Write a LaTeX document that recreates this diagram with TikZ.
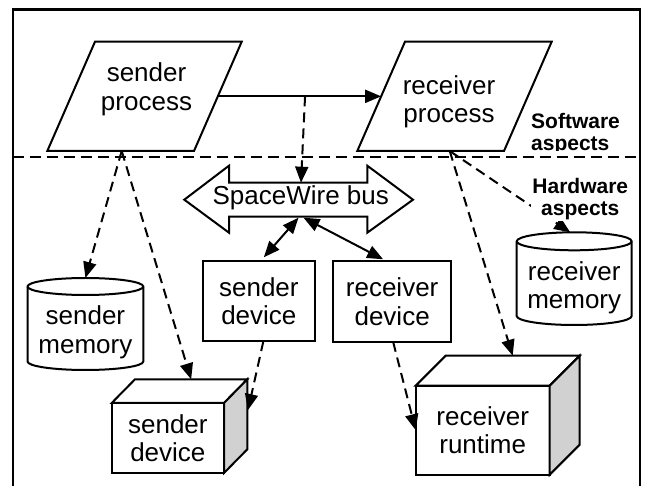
\documentclass[tikz,border=0pt]{standalone}
\usepackage{fontspec}
\setmainfont{Liberation Sans}
\usetikzlibrary{arrows.meta,calc}
\begin{document}
\begin{tikzpicture}[x=1pt,y=-1pt,
  shapeline/.style={line width=2pt},
  anchorbox/.style={rectangle, draw=none, inner sep=0pt, outer sep=0pt},
  mainfont/.style={font=\fontsize{26}{28.5}\selectfont},
  boxnode/.style={rectangle, draw, line width=2pt, fill=white, inner sep=0pt, outer sep=0pt, align=center, mainfont},
  cylnode/.style={rectangle, draw=none, inner sep=0pt, outer sep=0pt, align=center, mainfont},
  txt/.style={inner sep=0pt, align=center, mainfont},
  aspectfont/.style={font=\fontsize{21}{22}\selectfont\bfseries},
  solidarrow/.style={line width=2pt, -{Triangle[length=16pt,width=13pt]}},
  dasharrow/.style={line width=2pt, dash pattern=on 10pt off 6pt, -{Triangle[length=16pt,width=13pt]}},
  busarrow/.style={line width=2pt, {Triangle[length=16pt,width=13pt]}-{Triangle[length=16pt,width=13pt]}},
  sideface/.style={line width=2pt, fill=black!18},
  topface/.style={line width=2pt, fill=white},
]
\useasboundingbox (0,0) rectangle (646,486);

% frame and divider
\draw[line width=2.2pt] (12.7,486) -- (12.7,9.5) -- (639.7,9.5) -- (639.7,486);
\draw[line width=2pt, dash pattern=on 11pt off 6pt] (12.7,156.7) -- (639.7,156.7);

% processes (parallelograms)
\node[anchorbox, minimum width=146.7pt, minimum height=109.3pt] (sp) at (144.5,96.35) {};
\draw[shapeline] ($(sp.north west)+(23.85,0)$) -- ($(sp.north east)+(23.85,0)$) -- ($(sp.south east)+(-23.85,0)$) -- ($(sp.south west)+(-23.85,0)$) -- cycle;
\node[txt] (sptext) at (146.5,89.5) {sender\\process};

\node[anchorbox, minimum width=146.7pt, minimum height=109.3pt] (rp) at (454.5,96.35) {};
\draw[shapeline] ($(rp.north west)+(23.85,0)$) -- ($(rp.north east)+(23.85,0)$) -- ($(rp.south east)+(-23.85,0)$) -- ($(rp.south west)+(-23.85,0)$) -- cycle;
\node[txt] (rptext) at (449,102) {receiver\\process};

% SpaceWire bus
\coordinate (busc) at (299,199.7);
\draw[shapeline] ($(busc)+(-114.7,0)$) -- ($(busc)+(-70,-34)$) -- ($(busc)+(-70,-17)$) -- ($(busc)+(68.3,-17)$) -- ($(busc)+(68.3,-34)$) -- ($(busc)+(114,0)$) -- ($(busc)+(68.3,33)$) -- ($(busc)+(68.3,17)$) -- ($(busc)+(-70,17)$) -- ($(busc)+(-70,33)$) -- cycle;
\node[txt] (bus) at (300.8,198) {SpaceWire bus};

% devices
\node[boxnode, minimum width=112.3pt, minimum height=80pt] (sdev) at (258.85,301.3) {sender\\device};
\node[boxnode, minimum width=118.3pt, minimum height=80.7pt] (rdev) at (392.15,301.65) {receiver\\device};

% memories (cylinders)
\node[cylnode, minimum width=115.8pt, minimum height=75pt] (smem) at (85.4,332.5) {sender\\memory};
\draw[shapeline] ($(smem.north west)+(0,-8.5)$) -- ($(smem.south west)+(0,-8.5)$) arc[start angle=180,end angle=0,x radius=57.9,y radius=8.5] -- ($(smem.north east)+(0,-8.5)$) arc[start angle=0,end angle=-180,x radius=57.9,y radius=8.5] -- cycle;
\draw[shapeline] ($(smem.north west)+(0,-8.5)$) arc[start angle=180,end angle=0,x radius=57.9,y radius=8.5];

\node[cylnode, minimum width=115pt, minimum height=74.7pt] (rmem) at (574.2,287.65) {receiver\\memory};
\draw[shapeline] ($(rmem.north west)+(0,-9)$) -- ($(rmem.south west)+(0,-9)$) arc[start angle=180,end angle=0,x radius=57.5,y radius=9] -- ($(rmem.north east)+(0,-9)$) arc[start angle=0,end angle=-180,x radius=57.5,y radius=9] -- cycle;
\draw[shapeline] ($(rmem.north west)+(0,-9)$) arc[start angle=180,end angle=0,x radius=57.5,y radius=9];

% 3D boxes
\node[boxnode, minimum width=112.3pt, minimum height=70pt] (sdev3) at (167.85,438) {sender\\device};
\draw[topface] (sdev3.north west) -- ++(23.3,-23.7) -- ($(sdev3.north east)+(23.3,-23.7)$) -- (sdev3.north east) -- cycle;
\draw[sideface] (sdev3.north east) -- ++(23.3,-23.7) -- ($(sdev3.south east)+(23.3,-23.7)$) -- (sdev3.south east) -- cycle;

\node[boxnode, minimum width=134pt, minimum height=89pt] (rrt) at (482.7,430.2) {receiver\\runtime};
\draw[topface] (rrt.north west) -- ++(30,-30) -- ($(rrt.north east)+(30,-30)$) -- (rrt.north east) -- cycle;
\draw[sideface] (rrt.north east) -- ++(30,-30) -- ($(rrt.south east)+(30,-30)$) -- (rrt.south east) -- cycle;

% connectors
\draw[solidarrow] (sp.east) -- (rp.west);
\draw[dasharrow] ($(sp.east)!0.534!(rp.west)$) -- ($(busc)+(2,-17)$);
\draw[dasharrow] ($(sp.south)+(-22.8,0)$) -- ($(smem.north)+(0,-17)$);
\draw[dasharrow] ($(sp.south)+(-22.8,0)$) -- ($(sdev3.north)+(23.3,-23.7)$);
\draw[dasharrow] ($(sdev.south)+(4.5,0)$) -- ($(sdev3.east)+(24,-28)$);
\draw[dasharrow] ($(rp.south)+(-4.8,0)$) -- ($(rmem.north)+(-4,-18)$);
\draw[dasharrow] ($(rp.south)+(-4.8,0)$) -- ($(rrt.north)+(30,-30)$);
\draw[dasharrow] ($(rdev.south)+(1,0)$) -- (rrt.west);
\draw[busarrow] ($(busc)+(-0.5,18)$) -- ($(sdev.north)+(5,-4)$);
\draw[busarrow] ($(busc)+(4.5,18)$) -- ($(rdev.north)+(-9,-2)$);

% aspect labels
\begin{scope}
\clip (500,100) rectangle (638,151);
\node[aspectfont, align=left, anchor=north west, inner sep=0pt] (sw) at (531,113) {Software\\aspects};
\end{scope}
\node[aspectfont, align=center, fill=white, inner sep=1pt, anchor=north] (hw) at (580.3,176.8) {Hardware\\aspects};
\end{tikzpicture}
\end{document}
